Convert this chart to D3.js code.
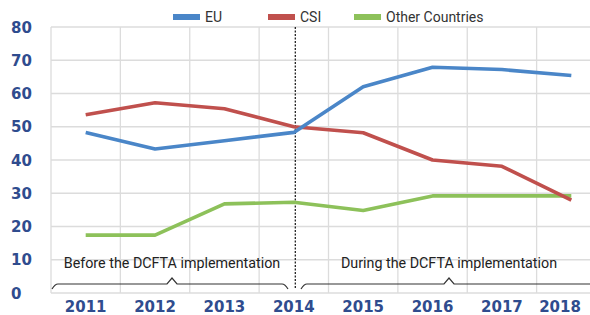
<!DOCTYPE html>
<html>
<head>
<meta charset="utf-8">
<script src="https://cdn.jsdelivr.net/npm/d3@7"></script>
<style>
  body { margin: 0; background: #fff; }
  svg { display: block; }
</style>
</head>
<body>
<div id="chart"></div>
<script>
var years = ["2011", "2012", "2013", "2014", "2015", "2016", "2017", "2018"];
var euValues = [48.3, 43.3, 45.8, 48.3, 62, 67.9, 67.2, 65.4];
var csiValues = [53.6, 57.2, 55.4, 50, 48.2, 40, 38.1, 27.9];
var otherValues = [17.4, 17.4, 26.8, 27.3, 24.8, 29.2, 29.2, 29.2];
var seriesNames = ["EU", "CSI", "Other Countries"];
var yTicks = [0, 10, 20, 30, 40, 50, 60, 70, 80];
var periodLabels = ["Before the DCFTA implementation", "During the DCFTA implementation"];

var W = 590, H = 315;
var colors = ["#4a86c8", "#c0504d", "#8dc15a"];

var svg = d3.select("#chart").append("svg")
    .attr("width", W)
    .attr("height", H);

var x = d3.scaleBand().domain(years).range([51, 606]);
var y = d3.scaleLinear().domain([0, 80]).range([293, 27]);
var cx = function(d) { return x(d) + x.bandwidth() / 2; };

// gridlines
var grid = svg.append("g").attr("class", "grid");
grid.selectAll("line.h").data(yTicks).enter()
    .append("line")
    .attr("x1", 51).attr("x2", W)
    .attr("y1", function(d) { return y(d); })
    .attr("y2", function(d) { return y(d); })
    .attr("stroke", "#dcdcdc")
    .attr("stroke-width", 1.3);
grid.selectAll("line.v").data(years).enter()
    .append("line")
    .attr("x1", function(d) { return x(d); })
    .attr("x2", function(d) { return x(d); })
    .attr("y1", y(80)).attr("y2", y(0))
    .attr("stroke", "#dcdcdc")
    .attr("stroke-width", 1.3);

// y axis labels
svg.append("g").selectAll("text").data(yTicks).enter()
    .append("text")
    .attr("x", 11)
    .attr("y", function(d) { return y(d) + 5.5; })
    .attr("font-family", "DejaVu Sans")
    .attr("font-weight", "bold")
    .attr("font-size", 15)
    .attr("fill", "#2f4c8e")
    .text(function(d) { return d; });

// x axis labels (last one pulled in so it stays on the page)
svg.append("g").selectAll("text").data(years).enter()
    .append("text")
    .attr("x", function(d) { return Math.min(cx(d), W - 30); })
    .attr("y", 312)
    .attr("text-anchor", "middle")
    .attr("font-family", "DejaVu Sans")
    .attr("font-weight", "bold")
    .attr("font-size", 15)
    .attr("fill", "#2f4c8e")
    .text(function(d) { return d; });

// dividing line at 2014
svg.append("line")
    .attr("x1", cx("2014") + 1.5).attr("x2", cx("2014") + 1.5)
    .attr("y1", y(80)).attr("y2", 288)
    .attr("stroke", "#222")
    .attr("stroke-width", 1.3)
    .attr("stroke-dasharray", "2,1.5");

// braces
function brace(x0, x1, xm, yb) {
  return "M" + x0 + "," + (yb + 5) +
    " Q" + (x0 + 3) + "," + yb + " " + (x0 + 6) + "," + yb +
    " L" + (xm - 5) + "," + yb +
    " L" + xm + "," + (yb - 6) +
    " L" + (xm + 5) + "," + yb +
    " L" + (x1 - 6) + "," + yb +
    " Q" + (x1 - 3) + "," + yb + " " + x1 + "," + (yb + 5);
}
svg.append("path")
    .attr("d", brace(52, 288, 172, 284))
    .attr("fill", "none")
    .attr("stroke", "#333")
    .attr("stroke-width", 1.2);
svg.append("path")
    .attr("d", brace(301, 600, 449, 284))
    .attr("fill", "none")
    .attr("stroke", "#333")
    .attr("stroke-width", 1.2);

svg.append("g").selectAll("text").data(periodLabels).enter()
    .append("text")
    .attr("x", function(d, i) { return i === 0 ? 172 : 449; })
    .attr("y", 268)
    .attr("text-anchor", "middle")
    .attr("font-family", "Roboto")
    .attr("font-size", 14.3)
    .attr("fill", "#222")
    .text(function(d) { return d; });

// series lines
var series = [euValues, csiValues, otherValues];
var line = d3.line()
    .x(function(d, i) { return cx(years[i]); })
    .y(function(d) { return y(d); });

// draw green first, then red, then blue on top
[2, 1, 0].forEach(function(k) {
  svg.append("path")
      .datum(series[k])
      .attr("d", line)
      .attr("fill", "none")
      .attr("stroke", colors[k])
      .attr("stroke-width", 3.6)
      .attr("stroke-linejoin", "round");
});

// legend
var legendX = [173, 268, 354];
var legend = svg.append("g").selectAll("g").data(seriesNames).enter()
    .append("g")
    .attr("transform", function(d, i) { return "translate(" + legendX[i] + ",17)"; });
legend.append("rect")
    .attr("x", 0).attr("y", -3)
    .attr("width", 27).attr("height", 6)
    .attr("fill", function(d, i) { return colors[i]; });
legend.append("text")
    .attr("x", 32).attr("y", 5)
    .attr("font-family", "Roboto")
    .attr("font-size", 14)
    .attr("fill", "#333")
    .text(function(d) { return d; });
</script>
</body>
</html>
